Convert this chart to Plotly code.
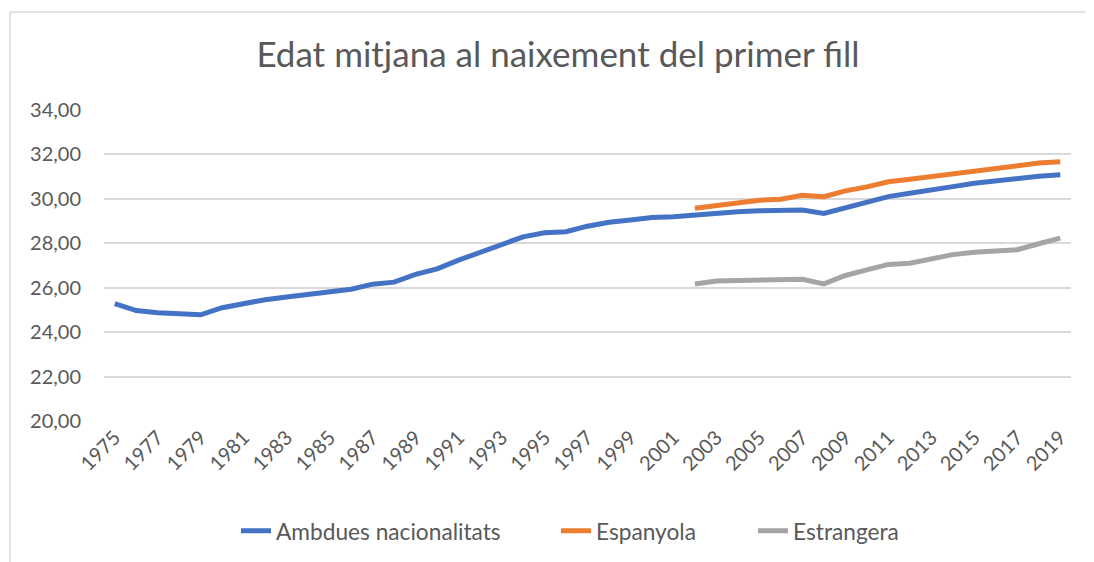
import plotly.graph_objects as go

years = list(range(1975, 2020))
years_nat = list(range(2002, 2020))

ambdues = [25.28, 24.97, 24.87, 24.81, 24.78, 25.10, 25.29, 25.46, 25.58, 25.71,
           25.85, 25.93, 26.16, 26.25, 26.60, 26.85, 27.24, 27.60, 27.94, 28.29,
           28.47, 28.52, 28.77, 28.95, 29.05, 29.16, 29.19, 29.28, 29.36, 29.42,
           29.46, 29.46, 29.50, 29.34, 29.60, 29.85, 30.10, 30.25, 30.42, 30.55,
           30.70, 30.82, 30.91, 31.02, 31.08]
espanyola = [29.58, 29.71, 29.83, 29.94, 29.98, 30.16, 30.10, 30.36, 30.54, 30.77,
             30.88, 31.00, 31.09, 31.22, 31.34, 31.48, 31.61, 31.67]
estrangera = [26.17, 26.30, 26.32, 26.33, 26.35, 26.38, 26.17, 26.55, 26.80, 27.05,
              27.10, 27.32, 27.49, 27.60, 27.68, 27.71, 27.98, 28.23]

names = ["Ambdues nacionalitats", "Espanyola", "Estrangera"]
colors = ["#4472C4", "#ED7D31", "#A5A5A5"]
legend_ids = ["legend", "legend2", "legend3"]
legend_x = [228, 548, 745]  # left edges of legend boxes (figure px)

fig = go.Figure()
for x, y, n, c, lg in [(years, ambdues, names[0], colors[0], legend_ids[0]),
                       (years_nat, espanyola, names[1], colors[1], legend_ids[1]),
                       (years_nat, estrangera, names[2], colors[2], legend_ids[2])]:
    fig.add_trace(go.Scatter(x=x, y=y, name=n, mode="lines", legend=lg,
                             line=dict(color=c, width=5)))

txt = "#595959"
grid = "#D9D9D9"
W, H = 1086, 554


def legend_cfg(px):
    return dict(orientation="h", x=px / W, xanchor="left", xref="container",
                y=1 - 523 / H, yanchor="middle", yref="container",
                font=dict(size=22.7, color=txt), bgcolor="rgba(0,0,0,0)")


fig.update_layout(
    width=W, height=H,
    margin=dict(l=96, r=23, t=102, b=141, autoexpand=False),
    paper_bgcolor="white", plot_bgcolor="white",
    separators=", ",
    font=dict(family="Lato, 'Open Sans', sans-serif", color=txt, size=20),
    title=dict(text="Edat mitjana al naixement del primer fill",
               x=0.5064, xanchor="center", xref="container",
               y=0.915, yanchor="middle", yref="container",
               font=dict(size=35, color=txt)),
    xaxis=dict(range=[1974.5, 2019.5], tickmode="linear", tick0=1975, dtick=2,
               tickangle=-45, showgrid=False, zeroline=False, automargin=False,
               showline=False, ticks="", tickfont=dict(size=20, color=txt)),
    yaxis=dict(range=[20, 34], tickmode="linear", tick0=20, dtick=2,
               tickformat=".2f", showgrid=True, gridcolor=grid, gridwidth=1.5,
               zeroline=False, showline=False, ticks="", automargin=False,
               ticklabelstandoff=22,
               tickfont=dict(size=20, color=txt)),
    legend=legend_cfg(legend_x[0]),
    legend2=legend_cfg(legend_x[1]),
    legend3=legend_cfg(legend_x[2]),
    showlegend=True,
    shapes=[
        dict(type="line", xref="paper", yref="paper", x0=-0.0972, x1=1.03,
             y0=1.315, y1=1.315, line=dict(color=grid, width=1.5)),
        dict(type="line", xref="paper", yref="paper", x0=-0.0972, x1=-0.0972,
             y0=1.315, y1=-0.46, line=dict(color=grid, width=1.5)),
    ],
)

fig.write_html("out.html", config={"displayModeBar": False})
